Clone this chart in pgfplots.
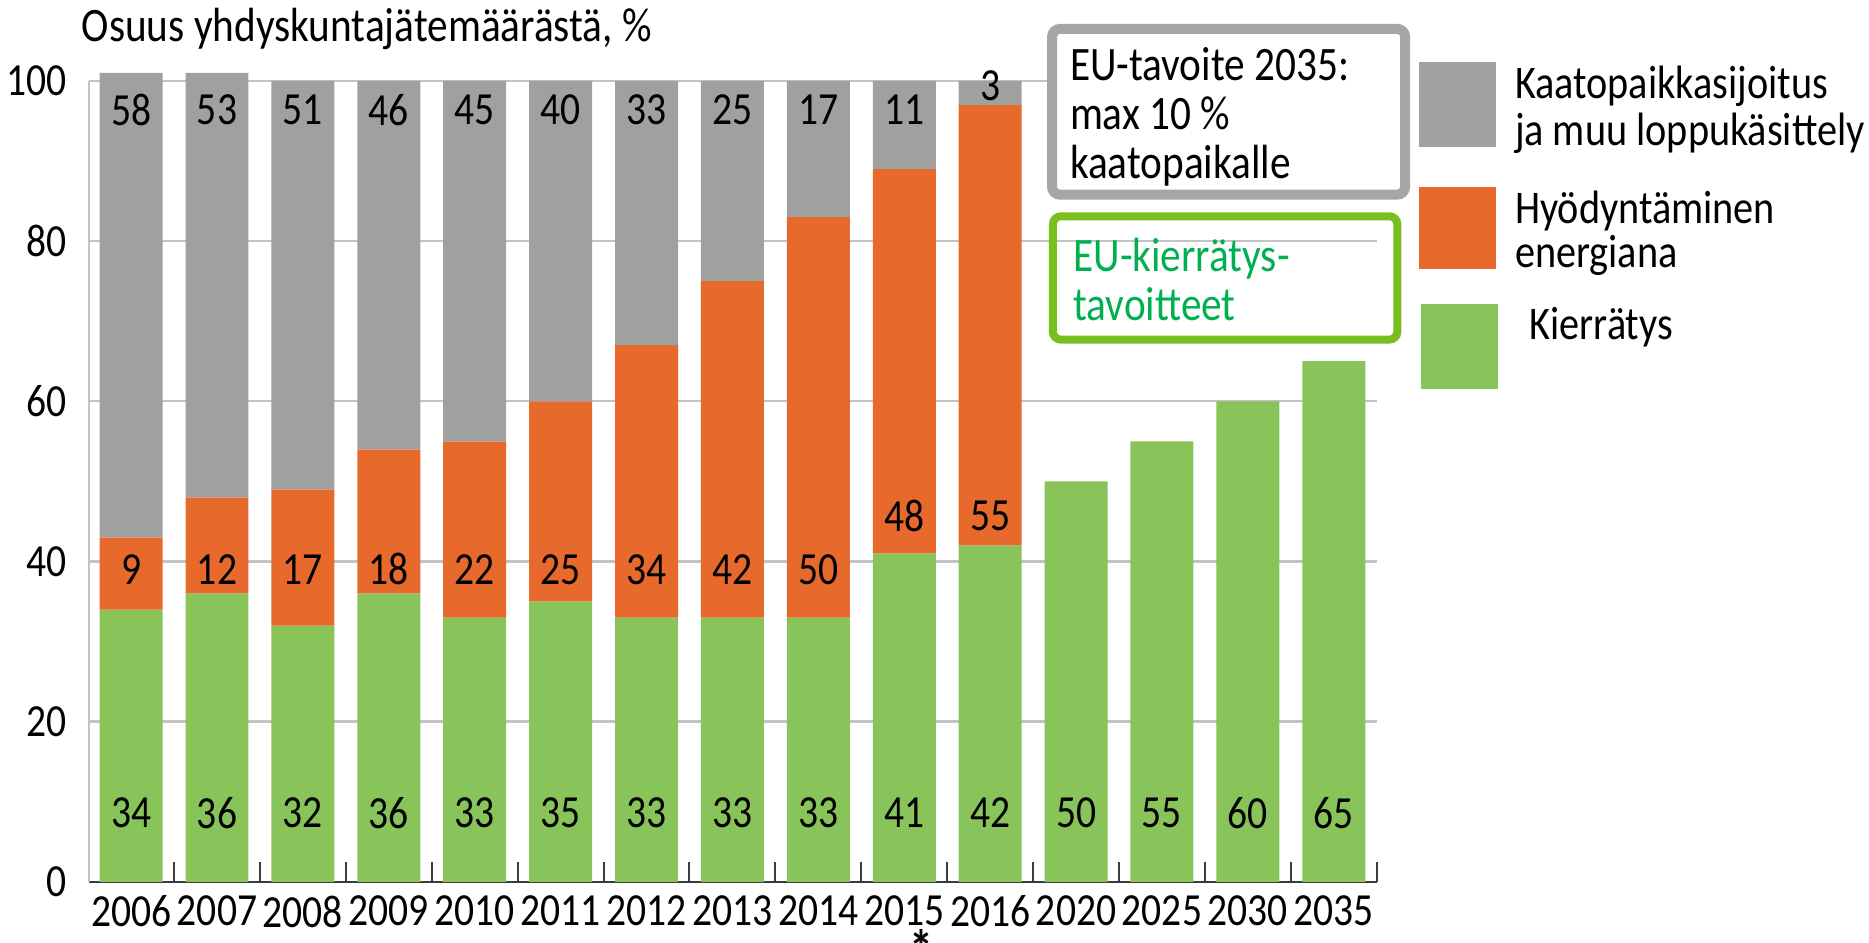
\documentclass[border=0pt]{standalone}
\usepackage{fontspec}
\setmainfont{Carlito}[FakeStretch=0.86]
\usepackage{pgfplots}
\usepackage{pgfplotstable}
\pgfplotsset{compat=1.18}
\definecolor{cgrey}{RGB}{160,160,158}
\definecolor{corange}{RGB}{232,105,44}
\definecolor{cgreen}{RGB}{136,196,90}
\definecolor{boxgrey}{RGB}{166,166,166}
\definecolor{boxgreen}{RGB}{120,190,30}
\definecolor{txtgreen}{RGB}{0,176,80}
\definecolor{gridc}{RGB}{195,195,195}
\definecolor{axc}{RGB}{60,60,60}

% Kierrätys
\pgfplotstableread{
x val
0 34
1 36
2 32
3 36
4 33
5 35
6 33
7 33
8 33
9 41
10 42
11 50
12 55
13 60
14 65
}\recycling
% Hyödyntäminen energiana
\pgfplotstableread{
x val
0 9
1 12
2 17
3 18
4 22
5 25
6 34
7 42
8 50
9 48
10 55
}\energy
% Kaatopaikkasijoitus
\pgfplotstableread{
x val
0 58
1 53
2 51
3 46
4 45
5 40
6 33
7 25
8 17
9 11
10 3
}\landfill
% label positions
\pgfplotstableread{
x y lab
0 8.6 34
1 8.6 36
2 8.6 32
3 8.6 36
4 8.6 33
5 8.6 35
6 8.6 33
7 8.6 33
8 8.6 33
9 8.6 41
10 8.6 42
11 8.6 50
12 8.6 55
13 8.6 60
14 8.6 65
0 39.0 9
1 39.0 12
2 39.0 17
3 39.0 18
4 39.0 22
5 39.0 25
6 39.0 34
7 39.0 42
8 39.0 50
9 45.7 48
10 45.7 55
0 96.4 58
1 96.4 53
2 96.4 51
3 96.4 46
4 96.4 45
5 96.4 40
6 96.4 33
7 96.4 25
8 96.4 17
9 96.4 11
10 99.4 3
}\labels

\begin{document}
\begin{tikzpicture}
\begin{axis}[
  scale only axis, width=322pt, height=200.25pt,
  xmin=-0.49, xmax=14.5, ymin=0, ymax=100,
  clip=false,
  axis x line*=bottom, axis y line*=left,
  axis line style={-},
  x axis line style={axc, line width=0.55pt, -},
  y axis line style={gridc, line width=0.5pt, -},
  xtick={0,...,14},
  xticklabels={2006,2007,2008,2009,2010,2011,2012,2013,2014,2015,2016,2020,2025,2030,2035},
  major x tick style={draw=none},
  minor xtick={-0.5,0.5,...,14.5},
  minor x tick style={axc, line width=0.5pt},
  minor tick length=5pt,
  tick align=inside,
  ytick={0,20,...,100},
  major y tick style={draw=none},
  ymajorgrids, grid style={gridc, line width=0.6pt},
  tick label style={font=\fontsize{11.5}{13}\selectfont, black},
  /pgf/number format/assume math mode=true,
  yticklabel style={xshift=-2pt},
]
\addplot[ybar, bar width=15.75pt, bar shift=0pt, stack plots=y, fill=cgreen, draw=none] table[x=x, y=val] {\recycling};
\addplot[ybar, bar width=15.75pt, bar shift=0pt, stack plots=y, fill=corange, draw=none] table[x=x, y=val] {\energy};
\addplot[ybar, bar width=15.75pt, bar shift=0pt, stack plots=y, fill=cgrey, draw=none] table[x=x, y=val] {\landfill};

\addplot[only marks, mark=none,
  nodes near coords, point meta=explicit symbolic, nodes near coords align={center},
  every node near coord/.append style={font=\fontsize{11.5}{13}\selectfont, black, inner sep=0pt}]
  table[x=x, y=y, meta=lab] {\labels};

% title
\node[anchor=base west, inner sep=0pt, font=\fontsize{12}{14}\selectfont] at (axis cs:-0.583,104.9) {Osuus yhdyskuntajätemäärästä, \%};
% asterisk
\node[inner sep=0pt, font=\fontsize{14}{16}\selectfont\bfseries] at (axis cs:9.2,-8.4) {*};

% grey target box
\draw[boxgrey, line width=2.5pt, fill=white, rounded corners=2pt] (axis cs:10.72,85.8) rectangle (axis cs:14.83,106.5);
\node[anchor=west, align=left, inner sep=0pt, font=\fontsize{12}{12.2}\selectfont] at (axis cs:10.92,95.5) {EU-tavoite 2035:\\max 10 \%\\kaatopaikalle};
% green target box
\draw[boxgreen, line width=2pt, rounded corners=2pt] (axis cs:10.73,67.7) rectangle (axis cs:14.74,83.1);
\node[anchor=west, align=left, inner sep=0pt, text=txtgreen, font=\fontsize{12}{12.2}\selectfont] at (axis cs:10.96,75.2) {EU-kierrätys-\\tavoitteet};

% legend
\fill[cgrey] (axis cs:14.99,91.8) rectangle (axis cs:15.89,102.4);
\fill[corange] (axis cs:14.99,76.5) rectangle (axis cs:15.89,86.8);
\fill[cgreen] (axis cs:15.01,61.5) rectangle (axis cs:15.91,72.2);
\node[anchor=west, align=left, inner sep=0pt, font=\fontsize{11.7}{11.9}\selectfont] at (axis cs:16.10,96.4) {Kaatopaikkasijoitus\\ja muu loppukäsittely};
\node[anchor=west, align=left, inner sep=0pt, font=\fontsize{11.7}{11}\selectfont] at (axis cs:16.10,81.0) {Hyödyntäminen\\energiana};
\node[anchor=west, align=left, inner sep=0pt, font=\fontsize{11.7}{11}\selectfont] at (axis cs:16.27,69.3) {Kierrätys};

\coordinate (bbll) at (axis cs:-1.526,-7.62);
\coordinate (bbur) at (axis cs:20.23,110.11);
\end{axis}
\pgfresetboundingbox
\path[use as bounding box] (bbll) rectangle (bbur);
\end{tikzpicture}
\end{document}
